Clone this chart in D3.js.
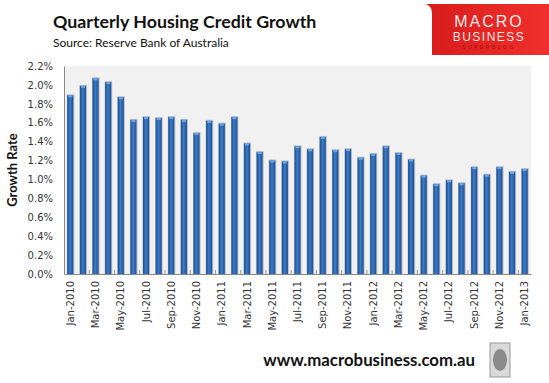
<!DOCTYPE html>
<html><head><meta charset="utf-8">
<script src="https://cdn.jsdelivr.net/npm/d3@7"></script>
<style>body{margin:0;background:#fff;}svg{display:block;}</style>
</head><body>
<svg id="c" width="549" height="383"></svg>
<script>
const months = ["Jan","Feb","Mar","Apr","May","Jun","Jul","Aug","Sep","Oct","Nov","Dec"];
const categories = [];
for (let y = 2010; y <= 2013; y++) for (let m = 0; m < 12; m++) { if (y === 2013 && m > 0) break; categories.push(months[m] + "-" + y); }
const values = [1.89,1.99,2.07,2.03,1.87,1.63,1.66,1.65,1.66,1.63,1.49,1.62,1.59,1.66,1.38,1.29,1.20,1.19,1.35,1.32,1.45,1.31,1.32,1.23,1.27,1.35,1.28,1.21,1.04,0.95,0.99,0.96,1.13,1.05,1.13,1.08,1.11];
const yTicks = [0,0.2,0.4,0.6,0.8,1.0,1.2,1.4,1.6,1.8,2.0,2.2];
const xLabels = categories.filter((d,i)=> i%2===0);

const svg = d3.select("#c");
const m = {l:64, r:531, t:66, b:274};
const x = d3.scaleBand().domain(categories).range([m.l, m.r]).paddingInner(0.52).paddingOuter(0.26);
const y = d3.scaleLinear().domain([0,2.2]).range([m.b, m.t]);

const defs = svg.append("defs");
const g = defs.append("linearGradient").attr("id","bg").attr("x1","0").attr("x2","1");
g.append("stop").attr("offset","0").attr("stop-color","#1d4a86");
g.append("stop").attr("offset","0.45").attr("stop-color","#3a7ccc");
g.append("stop").attr("offset","1").attr("stop-color","#1f4f8e");

svg.append("rect").attr("x",m.l).attr("y",m.t).attr("width",m.r-m.l).attr("height",m.b-m.t).attr("fill","#f1f1f1");

// bars
const bars = svg.append("g");
bars.selectAll("rect.sh").data(values).join("rect")
  .attr("x",(d,i)=>x(categories[i])-0.5).attr("y",d=>y(d)-1)
  .attr("width",x.bandwidth()+1.5).attr("height",d=>m.b-y(d)+1)
  .attr("fill","#b8bcc4");
bars.selectAll("rect.b").data(values).join("rect")
  .attr("x",(d,i)=>x(categories[i])).attr("y",d=>y(d))
  .attr("width",x.bandwidth()).attr("height",d=>m.b-y(d))
  .attr("fill","url(#bg)");
bars.selectAll("rect.cap").data(values).join("rect")
  .attr("x",(d,i)=>x(categories[i])+1).attr("y",d=>y(d))
  .attr("width",x.bandwidth()-2).attr("height",2)
  .attr("fill","#6aa6ec");

// y axis
const ya = d3.axisLeft(y).tickValues(yTicks).tickFormat(d=>d.toFixed(1)+"%").tickSize(0).tickPadding(11);
const yg = svg.append("g").attr("transform",`translate(${m.l},0)`).call(ya);
yg.select(".domain").attr("stroke","#888");
yg.selectAll("text").attr("font-family","DejaVu Sans, Verdana, sans-serif").attr("font-size","10px").attr("fill","#333");

// x axis
const xa = d3.axisBottom(x).tickValues(xLabels).tickSize(0).tickPadding(7);
const xg = svg.append("g").attr("transform",`translate(0,${m.b})`).call(xa);
xg.select(".domain").attr("stroke","#888");
xg.selectAll("text").attr("font-family","DejaVu Sans, Verdana, sans-serif").attr("font-size","10px").attr("fill","#333")
  .attr("transform","rotate(-90)").attr("text-anchor","end").attr("dx","-7").attr("y",0).attr("x",0).attr("dy","0.35em");
// boundary ticks (every other category boundary)
svg.append("g").selectAll("line").data(categories.filter((d,i)=>i%2===0 && i>0)).join("line")
  .attr("x1",d=>x(d)-(x.step()*x.paddingInner())/2).attr("x2",d=>x(d)-(x.step()*x.paddingInner())/2)
  .attr("y1",m.b).attr("y2",m.b-4).attr("stroke","#999");

svg.append("text").attr("transform",`translate(17,${(m.t+m.b)/2}) rotate(-90)`).attr("text-anchor","middle")
  .attr("font-family","Lato, 'Open Sans', sans-serif").attr("font-weight","bold").attr("font-size","13px").attr("fill","#111").text("Growth Rate");

// titles
svg.append("text").attr("x",53).attr("y",28).attr("font-family","Lato, 'Open Sans', sans-serif").attr("font-weight","bold").attr("font-size","17.8px").attr("fill","#111").text("Quarterly Housing Credit Growth");
svg.append("text").attr("x",53).attr("y",47).attr("font-family","Lato, 'Open Sans', sans-serif").attr("font-size","12px").attr("fill","#111").text("Source: Reserve Bank of Australia");

// logo
const lg = defs.append("linearGradient").attr("id","rg").attr("x1","0").attr("x2","1");
lg.append("stop").attr("offset","0").attr("stop-color","#d81c1c");
lg.append("stop").attr("offset","1").attr("stop-color","#f0302c");
svg.append("path").attr("d","M434,4 L549,4 L549,55 L432,55 L432,14 Q432,6 426,4 Z").attr("fill","url(#rg)");
svg.append("text").attr("x",489).attr("y",27).attr("text-anchor","middle").attr("font-family","'Liberation Sans', Arial, sans-serif").attr("font-size","16px").attr("letter-spacing","2px").attr("fill","#fde8e8").text("MACRO");
svg.append("text").attr("x",489).attr("y",41).attr("text-anchor","middle").attr("font-family","'Liberation Sans', Arial, sans-serif").attr("font-size","12px").attr("letter-spacing","1.5px").attr("fill","#fde8e8").text("BUSINESS");
svg.append("text").attr("x",489).attr("y",49).attr("text-anchor","middle").attr("font-family","'Liberation Sans', Arial, sans-serif").attr("font-size","5px").attr("letter-spacing","2.5px").attr("fill","#9a1010").text("SUPERBLOG");

// footer
svg.append("text").attr("x",475).attr("y",366).attr("text-anchor","end").attr("font-family","Lato, 'Open Sans', sans-serif").attr("font-weight","bold").attr("font-size","16.8px").attr("fill","#111").text("www.macrobusiness.com.au");
svg.append("rect").attr("x",490).attr("y",343).attr("width",20).attr("height",34).attr("fill","#d9d9d9").attr("stroke","#999");
svg.append("ellipse").attr("cx",500).attr("cy",360).attr("rx",7).attr("ry",11).attr("fill","#8a8a8a");
</script>
</body></html>
